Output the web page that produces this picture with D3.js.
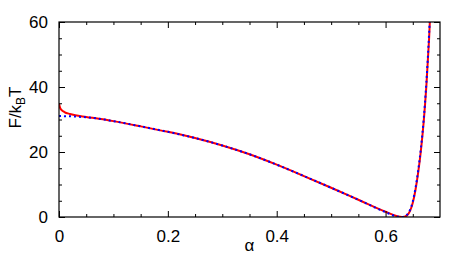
<!DOCTYPE html>
<html>
<head>
<meta charset="utf-8">
<script src="https://cdn.jsdelivr.net/npm/d3@7"></script>
<style>
  body { margin: 0; background: #fff; }
  svg { display: block; font-family: "Liberation Sans", Arial, sans-serif; }
  .axis path, .axis line { stroke: #000; }
  .axis text { font-size: 17px; fill: #000; }
</style>
</head>
<body>
<div id="graph-container"></div>
<script>
// alpha values and free energy curves
const alpha = [0, 0.002, 0.005, 0.01, 0.02, 0.03, 0.05, 0.1, 0.15, 0.2, 0.25, 0.3, 0.35, 0.4,
    0.45, 0.5, 0.55, 0.6, 0.62, 0.63, 0.635, 0.64, 0.645, 0.65, 0.655, 0.66, 0.665, 0.67, 0.675, 0.68, 0.684];
const fullF = [34.9, 33.6, 32.9, 32.3, 31.7, 31.3, 30.8, 29.5, 27.9, 26.2, 24.3, 22.0, 19.3, 16.1,
    12.6, 9.0, 5.3, 1.6, 0.3, 0.0, 0.1, 0.6, 1.9, 4.4, 8.4, 13.8, 20.6, 29.2, 40.5, 55, 70];
const approxF = [31.1, 31.1, 31.1, 31.0, 31.0, 30.9, 30.7, 29.5, 27.9, 26.2, 24.3, 22.0, 19.3, 16.1,
    12.6, 9.0, 5.3, 1.5, 0.2, 0.0, 0.2, 0.8, 2.2, 4.8, 8.9, 14.4, 21.3, 30.0, 41.5, 56.5, 72];

const xMajor = [0, 0.2, 0.4, 0.6];
const xMinor = [0.05, 0.1, 0.15, 0.25, 0.3, 0.35, 0.45, 0.5, 0.55, 0.65];
const yMajor = [0, 20, 40, 60];
const yMinor = [5, 10, 15, 25, 30, 35, 45, 50, 55];

const margin = { top: 22, right: 29, bottom: 37, left: 59 };
const width = 469 - margin.left - margin.right;
const height = 254 - margin.top - margin.bottom;

const x = d3.scaleLinear().domain([0, 0.7]).range([0, width]);
const y = d3.scaleLinear().domain([0, 60]).range([height, 0]);

const svg = d3.select("#graph-container")
    .append("svg")
    .attr("width", 469)
    .attr("height", 254);

const graph = svg.append("g")
    .attr("transform", `translate(${margin.left}, ${margin.top})`);

graph.append("clipPath")
    .attr("id", "plot-clip")
    .append("rect")
    .attr("width", width)
    .attr("height", height);

// Curves
const line = d3.line()
    .x(d => x(d[0]))
    .y(d => y(d[1]))
    .curve(d3.curveMonotoneX);

const curves = graph.append("g").attr("clip-path", "url(#plot-clip)");

curves.append("path")
    .datum(alpha.map((a, i) => [a, fullF[i]]))
    .attr("fill", "none")
    .attr("stroke", "#ff0000")
    .attr("stroke-width", 2)
    .attr("d", line);

curves.append("path")
    .datum(alpha.map((a, i) => [a, approxF[i]]))
    .attr("fill", "none")
    .attr("stroke", "#0000ff")
    .attr("stroke-width", 2)
    .attr("stroke-dasharray", "2,3")
    .attr("d", line);

// Axes: ticks point inward on all four sides
function addAxis(axis, transform, labels) {
    const g = graph.append("g")
        .attr("class", "axis")
        .attr("transform", transform)
        .call(axis);
    g.select(".domain").remove();
    if (!labels) g.selectAll("text").remove();
    return g;
}

addAxis(d3.axisBottom(x).tickValues(xMajor).tickSize(-6).tickPadding(13).tickFormat(d3.format("")),
    `translate(0, ${height})`, true);
addAxis(d3.axisBottom(x).tickValues(xMinor).tickSize(-3), `translate(0, ${height})`, false);
addAxis(d3.axisTop(x).tickValues(xMajor).tickSize(-6), "translate(0, 0)", false);
addAxis(d3.axisTop(x).tickValues(xMinor).tickSize(-3), "translate(0, 0)", false);

addAxis(d3.axisLeft(y).tickValues(yMajor).tickSize(-6).tickPadding(11), "translate(0, 0)", true);
addAxis(d3.axisLeft(y).tickValues(yMinor).tickSize(-3), "translate(0, 0)", false);
addAxis(d3.axisRight(y).tickValues(yMajor).tickSize(-6), `translate(${width}, 0)`, false);
addAxis(d3.axisRight(y).tickValues(yMinor).tickSize(-3), `translate(${width}, 0)`, false);

// Frame
graph.append("rect")
    .attr("width", width)
    .attr("height", height)
    .attr("fill", "none")
    .attr("stroke", "#000")
    .attr("stroke-width", 1.2);

// Axis labels
graph.append("text")
    .attr("text-anchor", "middle")
    .attr("x", width / 2)
    .attr("y", height + 34)
    .attr("font-size", 17)
    .text("α");

const yLabel = graph.append("text")
    .attr("text-anchor", "middle")
    .attr("transform", `translate(${-38}, ${height / 2 - 12}) rotate(-90)`)
    .attr("font-size", 17);
yLabel.append("tspan").text("F/k");
yLabel.append("tspan").attr("font-size", 12).attr("dy", 4).text("B");
yLabel.append("tspan").attr("dy", -4).text("T");
</script>
</body>
</html>
